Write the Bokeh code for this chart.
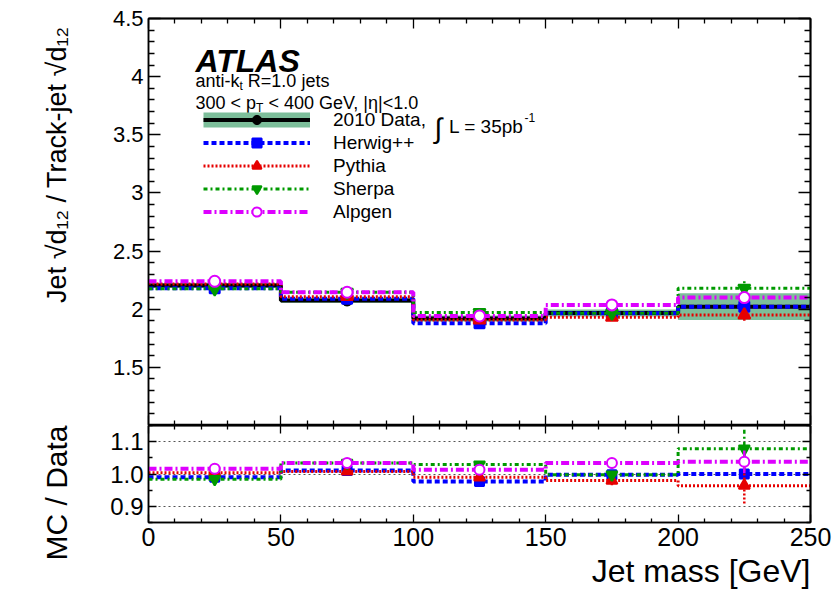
import numpy as np
from bokeh.plotting import figure
from bokeh.models import (Range1d, LinearAxis, FixedTicker, NumeralTickFormatter,
                          PrintfTickFormatter, Legend, LegendItem, Label, Grid, Title)
from bokeh.layouts import column
from bokeh.embed import file_html
from bokeh.resources import INLINE

# ---------------- data ----------------
bin_edges = [0, 50, 100, 150, 200, 250]
bin_centers = [25, 75, 125, 175, 225]
x_ticks = [0, 50, 100, 150, 200, 250]
y_ticks_main = [1.5, 2.0, 2.5, 3.0, 3.5, 4.0, 4.5]
y_ticks_ratio = [0.9, 1.0, 1.1]

data_val = [2.205, 2.075, 1.920, 1.968, 2.022]
data_err = [0.020, 0.020, 0.025, 0.030, 0.115]

herwig = [2.180, 2.091, 1.880, 1.966, 2.022]
pythia = [2.217, 2.108, 1.908, 1.931, 1.951]
sherpa = [2.175, 2.146, 1.971, 1.966, 2.180]
alpgen = [2.240, 2.146, 1.942, 2.037, 2.100]

herwig_err = [0.010, 0.010, 0.010, 0.010, 0.015]
pythia_err = [0.010, 0.010, 0.010, 0.015, 0.050]
sherpa_err = [0.015, 0.012, 0.012, 0.020, 0.060]
alpgen_err = [0.008, 0.008, 0.008, 0.010, 0.030]

herwig_ratio = [0.990, 1.011, 0.977, 0.998, 1.000]
pythia_ratio = [1.004, 1.008, 0.990, 0.980, 0.964]
sherpa_ratio = [0.984, 1.034, 1.029, 0.998, 1.078]
alpgen_ratio = [1.016, 1.034, 1.013, 1.034, 1.038]

herwig_ratio_err = [0.008, 0.008, 0.008, 0.008, 0.012]
pythia_ratio_err = [0.008, 0.008, 0.008, 0.015, 0.055]
sherpa_ratio_err = [0.015, 0.008, 0.008, 0.020, 0.065]
alpgen_ratio_err = [0.006, 0.006, 0.006, 0.006, 0.035]

# ---------------- styling ----------------
FONT = "Liberation Sans"
BAND = "#7dbe9a"
series = [
    dict(name="Herwig++", color="#0000ff", dash="5 3", width=4, marker="square", size=10,
         fill="#0000ff", val=herwig, err=herwig_err, r=herwig_ratio, rerr=herwig_ratio_err),
    dict(name="Pythia", color="#e60000", dash="2 2", width=3, marker="triangle", size=12,
         fill="#e60000", val=pythia, err=pythia_err, r=pythia_ratio, rerr=pythia_ratio_err),
    dict(name="Sherpa", color="#009a00", dash="4 3 2 3", width=3, marker="inverted_triangle", size=12,
         fill="#009a00", val=sherpa, err=sherpa_err, r=sherpa_ratio, rerr=sherpa_ratio_err),
    dict(name="Alpgen", color="#dd00ff", dash="8 3 2 3", width=4, marker="circle", size=11,
         fill="white", val=alpgen, err=alpgen_err, r=alpgen_ratio, rerr=alpgen_ratio_err),
]

# frame geometry in page pixels (used only to place annotations)
FL, FR = 148.0, 810.0
TT, TB = 18.0, 425.0
X0, X1 = 0.0, 250.0
YT0, YT1 = 1.0, 4.5
YB0, YB1 = 0.85, 1.15


def gx(px):
    return X0 + (px - FL) * (X1 - X0) / (FR - FL)


def gyt(py):
    return YT0 + (TB - py) * (YT1 - YT0) / (TB - TT)


AW = {' ': 278, '.': 278, ',': 278, '<': 584, '=': 584, '-': 333, '|': 260, 'η': 556, '+': 584,
      'a': 556, 'e': 556, 'i': 222, 'j': 222, 'k': 500, 'n': 556, 'o': 556, 'p': 556, 'r': 333,
      's': 500, 't': 278, 'b': 556, 'D': 722, 'G': 778, 'L': 556, 'R': 722, 'T': 611, 'V': 667, '∫': 273}


def tw(s, size):
    return sum(AW.get(c, 556) for c in s) * size / 1000.0


HAS_STANDOFF = "standoff" in Title.properties()


def style_axis(ax, tick_in, minor_in, size="21px"):
    ax.major_tick_in = tick_in
    ax.major_tick_out = 0
    ax.minor_tick_in = minor_in
    ax.minor_tick_out = 0
    ax.axis_line_color = "black"
    ax.axis_line_width = 1.5
    ax.major_tick_line_color = "black"
    ax.minor_tick_line_color = "black"
    ax.major_tick_line_width = 1.3
    ax.minor_tick_line_width = 1.3
    ax.major_label_text_font = FONT
    ax.major_label_text_font_size = size
    ax.major_label_text_color = "black"


def tick_only_axes(fig, side, majors, minors, major_len, minor_len):
    # label-free tick marks: drawn as "minor" ticks so no tick labels exist
    for pos, ln in ((majors, major_len), (minors, minor_len)):
        ax = LinearAxis(ticker=FixedTicker(ticks=[], minor_ticks=list(pos)))
        ax.major_tick_in = 0
        ax.major_tick_out = 0
        ax.minor_tick_in = ln
        ax.minor_tick_out = 0
        ax.minor_tick_line_color = "black"
        ax.minor_tick_line_width = 1.3
        ax.axis_line_color = "black"
        ax.axis_line_width = 1.5
        ax.major_label_standoff = 0
        fig.add_layout(ax, side)


def side_title(fig, side, text, size, standoff, valign, offset=0):
    kw = dict(text=text, align="right", vertical_align=valign, text_font=FONT,
              text_font_size=f"{size}px", text_font_style="normal", text_color="black",
              offset=offset)
    if HAS_STANDOFF:
        kw["standoff"] = standoff
    fig.add_layout(Title(**kw), side)


x_range = Range1d(X0, X1)
x_minor = [v for v in range(0, 251, 10) if v % 50]

# ---------------- top panel ----------------
top = figure(width=835, height=425, x_range=x_range, y_range=Range1d(YT0, YT1),
             output_backend="svg", toolbar_location=None,
             x_axis_location=None, y_axis_location=None,
             min_border_left=148, min_border_right=25, min_border_top=18, min_border_bottom=0)
top.xgrid.visible = False
top.ygrid.visible = False
top.outline_line_color = "black"
top.outline_line_width = 1.5

yt_minor = [round(v, 2) for v in np.arange(1.0, 4.51, 0.1)]
yt_minor = [v for v in yt_minor if v not in y_ticks_main]
ax = LinearAxis(ticker=FixedTicker(ticks=y_ticks_main, minor_ticks=yt_minor),
                formatter=NumeralTickFormatter(format="0.[0]"))
style_axis(ax, 12, 6, "22px")
top.add_layout(ax, "left")
tick_only_axes(top, "right", y_ticks_main, yt_minor, 12, 6)
tick_only_axes(top, "below", x_ticks, x_minor, 10, 5)
tick_only_axes(top, "above", x_ticks, x_minor, 10, 5)
side_title(top, "left", "Jet √d₁₂ / Track-jet √d₁₂", 27, 72, "top", offset=8)

band_lo = [v - e for v, e in zip(data_val, data_err)]
band_hi = [v + e for v, e in zip(data_val, data_err)]
top.quad(left=bin_edges[:-1], right=bin_edges[1:], bottom=band_lo, top=band_hi,
         fill_color=BAND, line_color=None)
top.step(x=bin_edges, y=data_val + [data_val[-1]], mode="after",
         line_color="black", line_width=4)
data_pts = top.scatter(x=bin_centers, y=data_val, marker="circle", size=11,
                       fill_color="black", line_color="black")

legend_items = []
band_proxy = top.line(x=[np.nan], y=[np.nan], line_color=BAND, line_width=15)
data_proxy = top.line(x=[np.nan], y=[np.nan], line_color="black", line_width=4)
legend_items.append(LegendItem(label="2010 Data,", renderers=[band_proxy, data_proxy, data_pts]))

for s in series:
    top.step(x=bin_edges, y=s["val"] + [s["val"][-1]], mode="after",
             line_color=s["color"], line_width=s["width"], line_dash=s["dash"])
    top.segment(x0=bin_centers, x1=bin_centers,
                y0=[v - e for v, e in zip(s["val"], s["err"])],
                y1=[v + e for v, e in zip(s["val"], s["err"])],
                line_color=s["color"], line_width=2.5, line_dash=s["dash"])
    pts = top.scatter(x=bin_centers, y=s["val"], marker=s["marker"], size=s["size"],
                      fill_color=s["fill"], line_color=s["color"], line_width=2)
    proxy = top.line(x=[np.nan], y=[np.nan], line_color=s["color"], line_width=s["width"],
                     line_dash=s["dash"])
    legend_items.append(LegendItem(label=s["name"], renderers=[proxy, pts]))

legend = Legend(items=legend_items, location=(55, 202), orientation="vertical",
                glyph_width=107, glyph_height=23, label_height=23, spacing=0,
                label_standoff=23, padding=0, margin=0,
                border_line_color=None, background_fill_alpha=0.0,
                label_text_font=FONT, label_text_font_size="19px", label_text_color="black")
top.add_layout(legend)


def lab(fig, px, py, text, size, **kw):
    opts = dict(text_font=FONT, text_font_size=f"{size}px", text_color="black",
                text_baseline="alphabetic")
    opts.update(kw)
    fig.add_layout(Label(x=gx(px), y=gyt(py), text=text, **opts))


# ATLAS label and info lines
lab(top, 195, 60, "ATLAS", 32, text_font_style="bold italic")
x0 = 195
lab(top, x0, 80, "anti-k", 18)
x1 = x0 + tw("anti-k", 18)
lab(top, x1, 85, "t", 12)
lab(top, x1 + tw("t", 12) + tw(" ", 18), 80, "R=1.0 jets", 18)
lab(top, x0, 102, "300 < p", 18)
x1 = x0 + tw("300 < p", 18)
lab(top, x1, 107, "T", 12)
lab(top, x1 + tw("T", 12) + tw(" ", 18), 102, "< 400 GeV, |η|<1.0", 18)

# luminosity part of the data legend entry
xi = 333 + tw("2010 Data,", 19) + 8
lab(top, xi, 128, "∫", 28)
xl = xi + tw("∫", 28) + 7
lab(top, xl, 126, "L = 35pb", 19)
lab(top, xl + tw("L = 35pb", 19) + 1, 117, "-1", 12)

# ---------------- ratio panel ----------------
bot = figure(width=835, height=173, x_range=x_range, y_range=Range1d(YB0, YB1),
             output_backend="svg", toolbar_location=None,
             x_axis_location=None, y_axis_location=None,
             min_border_left=148, min_border_right=25, min_border_top=0, min_border_bottom=76)
bot.xgrid.visible = False
bot.ygrid.visible = False
bot.outline_line_color = "black"
bot.outline_line_width = 1.5

yr_minor = [0.85, 0.95, 1.05, 1.15]
ax = LinearAxis(ticker=FixedTicker(ticks=y_ticks_ratio, minor_ticks=yr_minor),
                formatter=PrintfTickFormatter(format="%.1f"))
style_axis(ax, 8, 4, "24px")
bot.add_layout(ax, "left")
tick_only_axes(bot, "right", y_ticks_ratio, yr_minor, 8, 4)
ax = LinearAxis(ticker=FixedTicker(ticks=x_ticks, minor_ticks=x_minor))
style_axis(ax, 8, 4, "25px")
ax.major_label_standoff = 5
bot.add_layout(ax, "below")
tick_only_axes(bot, "above", x_ticks, x_minor, 8, 4)
side_title(bot, "left", "MC / Data", 30, 66, "top")
side_title(bot, "below", "Jet mass [GeV]", 32, 9, "top")

g = Grid(dimension=1, ticker=FixedTicker(ticks=y_ticks_ratio), grid_line_color="#555555",
         grid_line_dash="2 3", grid_line_width=1.2)
bot.add_layout(g, "center")

for s in series:
    bot.step(x=bin_edges, y=s["r"] + [s["r"][-1]], mode="after",
             line_color=s["color"], line_width=s["width"], line_dash=s["dash"])
    bot.segment(x0=bin_centers, x1=bin_centers,
                y0=[v - e for v, e in zip(s["r"], s["rerr"])],
                y1=[v + e for v, e in zip(s["r"], s["rerr"])],
                line_color=s["color"], line_width=2.5, line_dash=s["dash"])
    bot.scatter(x=bin_centers, y=s["r"], marker=s["marker"], size=s["size"] - 1,
                fill_color=s["fill"], line_color=s["color"], line_width=2)

layout = column(top, bot, spacing=0)
open("out.html", "w").write(file_html(layout, INLINE))
